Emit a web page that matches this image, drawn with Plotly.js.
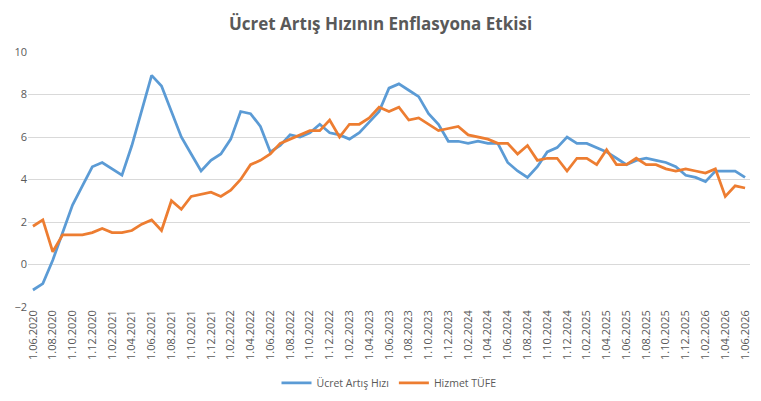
<!DOCTYPE html>
<html>
<head>
<meta charset="utf-8">
<script src="https://cdn.plot.ly/plotly-3.0.1.min.js"></script>
<style>
  html, body { margin: 0; padding: 0; background: #fff; }
  #plotdiv { width: 761px; height: 401px; }
</style>
</head>
<body>
<div id="plotdiv"></div>
<script>
var months = [
    '1.06.2020', '1.07.2020', '1.08.2020', '1.09.2020', '1.10.2020', '1.11.2020', '1.12.2020',
    '1.01.2021', '1.02.2021', '1.03.2021', '1.04.2021', '1.05.2021', '1.06.2021', '1.07.2021',
    '1.08.2021', '1.09.2021', '1.10.2021', '1.11.2021', '1.12.2021',
    '1.01.2022', '1.02.2022', '1.03.2022', '1.04.2022', '1.05.2022', '1.06.2022', '1.07.2022',
    '1.08.2022', '1.09.2022', '1.10.2022', '1.11.2022', '1.12.2022',
    '1.01.2023', '1.02.2023', '1.03.2023', '1.04.2023', '1.05.2023', '1.06.2023', '1.07.2023',
    '1.08.2023', '1.09.2023', '1.10.2023', '1.11.2023', '1.12.2023',
    '1.01.2024', '1.02.2024', '1.03.2024', '1.04.2024', '1.05.2024', '1.06.2024', '1.07.2024',
    '1.08.2024', '1.09.2024', '1.10.2024', '1.11.2024', '1.12.2024',
    '1.01.2025', '1.02.2025', '1.03.2025', '1.04.2025', '1.05.2025', '1.06.2025', '1.07.2025',
    '1.08.2025', '1.09.2025', '1.10.2025', '1.11.2025', '1.12.2025',
    '1.01.2026', '1.02.2026', '1.03.2026', '1.04.2026', '1.05.2026', '1.06.2026'
];

// Ücret Artış Hızı
var wageGrowth = [
    -1.2, -0.9, 0.2, 1.5, 2.8, 3.7, 4.6, 4.8, 4.5, 4.2,
    5.6, 7.3, 8.9, 8.4, 7.2, 6.0, 5.2, 4.4, 4.9, 5.2,
    5.9, 7.2, 7.1, 6.5, 5.3, 5.6, 6.1, 6.0, 6.2, 6.6,
    6.2, 6.1, 5.9, 6.2, 6.7, 7.2, 8.3, 8.5, 8.2, 7.9,
    7.1, 6.6, 5.8, 5.8, 5.7, 5.8, 5.7, 5.7, 4.8, 4.4,
    4.1, 4.6, 5.3, 5.5, 6.0, 5.7, 5.7, 5.5, 5.3, 5.0,
    4.7, 4.9, 5.0, 4.9, 4.8, 4.6, 4.2, 4.1, 3.9, 4.4,
    4.4, 4.4, 4.1
];

// Hizmet TÜFE
var serviceCpi = [
    1.8, 2.1, 0.6, 1.4, 1.4, 1.4, 1.5, 1.7, 1.5, 1.5,
    1.6, 1.9, 2.1, 1.6, 3.0, 2.6, 3.2, 3.3, 3.4, 3.2,
    3.5, 4.0, 4.7, 4.9, 5.2, 5.7, 5.9, 6.1, 6.3, 6.3,
    6.8, 6.0, 6.6, 6.6, 6.9, 7.4, 7.2, 7.4, 6.8, 6.9,
    6.6, 6.3, 6.4, 6.5, 6.1, 6.0, 5.9, 5.7, 5.7, 5.2,
    5.6, 4.9, 5.0, 5.0, 4.4, 5.0, 5.0, 4.7, 5.4, 4.7,
    4.7, 5.0, 4.7, 4.7, 4.5, 4.4, 4.5, 4.4, 4.3, 4.5,
    3.2, 3.7, 3.6
];

var yTicks = [-2, 0, 2, 4, 6, 8, 10];

// every second month gets a label
var tickIdx = [];
var tickLabels = [];
for (var i = 0; i < months.length; i += 2) {
    tickIdx.push(i);
    tickLabels.push(months[i]);
}

var xs = months.map(function (m, i) { return i; });

var data = [
    {
        x: xs,
        y: wageGrowth,
        mode: 'lines',
        type: 'scatter',
        name: 'Ücret Artış Hızı',
        line: { color: '#5B9BD5', width: 2.75 }
    },
    {
        x: xs,
        y: serviceCpi,
        mode: 'lines',
        type: 'scatter',
        name: 'Hizmet TÜFE',
        line: { color: '#ED7D31', width: 2.75 }
    }
];

var layout = {
    width: 761,
    height: 401,
    margin: { l: 28, r: 11, t: 52, b: 94, autoexpand: false },
    paper_bgcolor: '#ffffff',
    plot_bgcolor: '#ffffff',
    font: { family: '"Open Sans", "Liberation Sans", sans-serif', color: '#595959', size: 11 },
    title: {
        text: '<b>Ücret Artış Hızının Enflasyona Etkisi</b>',
        font: { family: '"Open Sans", sans-serif', size: 17, color: '#595959' },
        x: 0.5,
        xanchor: 'center',
        y: 0.94,
        yanchor: 'middle'
    },
    xaxis: {
        range: [-0.5, months.length - 0.5],
        tickmode: 'array',
        tickvals: tickIdx,
        ticktext: tickLabels,
        tickangle: -90,
        tickfont: { size: 11, color: '#595959' },
        showgrid: false,
        zeroline: false,
        showline: false,
        ticks: '',
        automargin: false,
        fixedrange: true
    },
    yaxis: {
        range: [-2, 10],
        tickmode: 'array',
        tickvals: yTicks,
        tickfont: { size: 11, color: '#595959' },
        showgrid: true,
        gridcolor: '#d9d9d9',
        gridwidth: 1,
        zeroline: true,
        zerolinecolor: '#d9d9d9',
        zerolinewidth: 1,
        showline: false,
        ticks: '',
        ticklen: 0,
        automargin: false,
        fixedrange: true
    },
    showlegend: true,
    legend: {
        orientation: 'h',
        x: 0.5,
        xanchor: 'center',
        yref: 'container',
        y: 0.045,
        yanchor: 'middle',
        font: { size: 10.5, color: '#595959' },
        itemwidth: 30
    }
};

Plotly.newPlot('plotdiv', data, layout, { displayModeBar: false, staticPlot: true });
</script>
</body>
</html>
